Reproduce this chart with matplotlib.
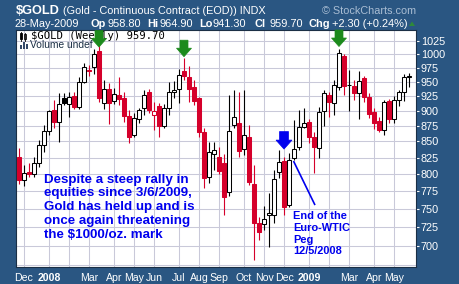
import matplotlib
matplotlib.use("Agg")
import matplotlib.pyplot as plt
import pandas as pd
from matplotlib.patches import Polygon, Rectangle
from matplotlib.ticker import FixedLocator, NullLocator, FuncFormatter
from matplotlib.transforms import IdentityTransform

plt.rcParams['font.family'] = ['Liberation Sans', 'DejaVu Sans']

# ---- weekly OHLC for $GOLD (continuous contract), weeks starting Monday ----
week_start = "2007-11-26"
opens = [826, 791, 803.5, 800, 817, 844, 867, 901, 882, 921,
         911, 925, 905.7, 950, 970.7, 975.6, 1006, 913.5, 936.5, 917,
         926, 921, 891, 860, 887, 904, 932, 893, 908, 874.9,
         904, 931, 936.5, 969.5, 959, 941, 921, 865.5, 796, 830,
         826, 817, 774, 876, 879, 838, 857, 785, 731, 728.7,
         741.5, 741.5, 803.5, 820, 755, 825, 840.8, 873.7, 882, 857,
         840, 900, 926.6, 913.5, 941, 996.3, 944, 942.8, 929.5, 955.8,
         923.7, 897.7, 883.5, 868.5, 916.8, 887, 918, 932, 958.8]
highs = [839, 814, 816, 826, 852, 876, 901, 918, 929.5, 929.5,
         932, 932, 958.7, 982.9, 979.8, 1009, 1025, 953, 948, 939,
         958.7, 932, 901, 895.8, 905, 935, 937, 915, 913, 911,
         950, 951, 971.9, 992, 978, 953, 924, 871, 849.6, 849.6,
         842, 830, 926.6, 936, 932, 936, 876, 813.5, 739, 753.5,
         772, 806, 836.5, 826, 832, 884.6, 901, 904, 886, 865.5,
         906.5, 935, 932, 952.8, 1008.8, 1000.5, 970.7, 953, 969.6, 960,
         930, 905, 889, 918, 920, 925, 935, 963.5, 964.9]
lows = [785, 782, 796, 796, 811, 834, 860, 871, 849.6, 909.6,
        889, 903, 903, 947, 960.8, 963, 915, 903.6, 878, 911,
        910, 882, 847, 857, 880, 893, 896, 868.5, 857.5, 871,
        893, 921, 913.5, 953, 915, 910, 857.5, 779, 786.5, 806,
        800, 741, 768, 871, 826, 829, 784, 682, 708, 721,
        699, 730, 794.5, 741.5, 752, 821, 836.5, 871, 847, 801,
        823.6, 874.9, 890, 893, 935.3, 926.6, 900, 918, 885.6, 915,
        888, 870, 865.5, 860, 880, 880, 908, 917, 941.3]
closes = [791, 801, 799.6, 817, 844, 867, 899.4, 882, 911, 913.5,
          923.7, 906.7, 950, 975.6, 969, 1000, 921, 936.5, 913.5, 928,
          919, 891, 857.5, 887.3, 901, 926.6, 901, 900, 874.9, 904,
          932, 935, 961.7, 960, 936.5, 917, 865.5, 793.7, 834, 836.5,
          805, 766, 867, 889, 835.5, 860, 788.7, 731, 718.7, 736,
          744.5, 792, 818.5, 753, 821, 838, 873.7, 880, 856.5, 840.8,
          897, 930.6, 915, 944, 1002.4, 942.8, 943.5, 930.6, 951.6, 923.7,
          894.5, 879, 868.5, 915, 887, 918, 932, 957.4, 959.7]

price_ticks = [700, 725, 750, 775, 800, 825, 850, 875, 900, 925, 950, 975, 1000, 1025]
grid_levels = [675] + price_ticks
month_labels = ["Dec", "2008", "", "Mar", "Apr", "May", "Jun", "Jul", "Aug",
                "Sep", "Oct", "Nov", "Dec", "2009", "", "Mar", "Apr", "May"]

# signal arrows: (week index, tip price)
green_arrows = [(16, 1013), (33, 995), (64, 1014)]
blue_arrows = [(53, 838)]
# pointer from the "End of the Euro-WTIC Peg" note
peg_line_x = [54.9, 59.2]
peg_line_y = [819.6, 755.2]

# ---- colours ----
FRAME = '#2a5682'
RED = '#d5002b'
GRID = '#c9c9d9'
GREEN = '#1c8a1c'
BLUE = '#0000ee'

W, H, DPI = 460, 284, 100
fig = plt.figure(figsize=(W / DPI, H / DPI), dpi=DPI)
fig.patch.set_facecolor(FRAME)


def fpos(x, y):
    return x / W, 1 - y / H


ax = fig.add_axes([16 / W, 1 - 267 / H, 400 / W, 237 / H])
ax.set_facecolor('white')
ax.set_yscale('log')
ax.set_ylim(673.1, 1045.6)
ax.set_xlim(-0.6, 79.4)

for s in ax.spines.values():
    s.set_color('#1b2f45')
    s.set_linewidth(0.8)

# grid
for lvl in grid_levels:
    ax.axhline(lvl, color=GRID, lw=0.75, zorder=0)

dates = pd.date_range(week_start, periods=len(closes), freq="W-MON")
month_idx = []
seen = set()
for i, d in enumerate(dates):
    key = (d.year, d.month)
    if key not in seen and d.day <= 7:
        seen.add(key)
        month_idx.append(i)
for mi in month_idx:
    ax.axvline(mi, color=GRID, lw=0.75, zorder=0)

# candles: black when the close is above the prior close, red otherwise;
# hollow when the close is above the open
for i in range(len(closes)):
    o, h, l, c = opens[i], highs[i], lows[i], closes[i]
    prev = closes[i - 1] if i > 0 else o
    col = 'black' if c >= prev else RED
    face = 'white' if c > o else col
    ax.vlines(i, l, h, colors=col, lw=0.8, zorder=2)
    bot = min(o, c)
    ht = max(abs(c - o), 0.3)
    ax.bar(i, ht, bottom=bot, width=0.8, facecolor=face, edgecolor=col,
           linewidth=0.75, zorder=3)

# axes ticks
ax.yaxis.tick_right()
ax.yaxis.set_major_locator(FixedLocator(price_ticks))
ax.yaxis.set_minor_locator(NullLocator())
ax.yaxis.set_major_formatter(FuncFormatter(lambda v, p: f"{v:.0f}"))
ax.yaxis.set_minor_formatter(FuncFormatter(lambda v, p: ""))
ax.tick_params(axis='y', colors='white', labelsize=7.8, length=2, width=0.8, pad=1.5)

ax.set_xticks(month_idx)
ax.set_xticklabels(month_labels[:len(month_idx)])
ax.tick_params(axis='x', colors='white', labelsize=7.6, length=0, pad=4)
for lbl in ax.get_xticklabels():
    if lbl.get_text().isdigit():
        lbl.set_fontweight('bold')


def down_arrow(ix, price, color, head_w=15, head_h=8.5, shaft_w=8, shaft_h=8):
    tx, ty = ax.transData.transform((ix, price))
    verts = [(tx, ty), (tx - head_w / 2, ty + head_h), (tx - shaft_w / 2, ty + head_h),
             (tx - shaft_w / 2, ty + head_h + shaft_h), (tx + shaft_w / 2, ty + head_h + shaft_h),
             (tx + shaft_w / 2, ty + head_h), (tx + head_w / 2, ty + head_h)]
    fig.add_artist(Polygon(verts, closed=True, transform=IdentityTransform(),
                           facecolor=color, edgecolor=color, lw=0.5, zorder=8))


for ix, p in green_arrows:
    down_arrow(ix, p, GREEN)
for ix, p in blue_arrows:
    down_arrow(ix, p, BLUE, head_w=16, head_h=9, shaft_w=9, shaft_h=8.5)

ax.plot(peg_line_x, peg_line_y, color=BLUE, lw=1.2, zorder=5, solid_capstyle='butt')

# notes
fig.text(*fpos(44, 173.5), "Despite a steep rally in\nequities since 3/6/2009,\n"
         "Gold has held up and is\nonce again threatening\nthe $1000/oz. mark",
         color=BLUE, fontsize=9.6, fontweight='bold', va='top', ha='left',
         linespacing=1.2, zorder=6)
fig.text(*fpos(293, 211), "End of the\nEuro-WTIC\nPeg\n12/5/2008",
         color=BLUE, fontsize=7.9, fontweight='bold', va='top', ha='left',
         linespacing=1.22, zorder=6)

# in-chart legend
fig.text(*fpos(31.5, 36), "$GOLD (Weekly) 959.70", family='DejaVu Sans Mono',
         fontsize=7.6, color='black', va='center', ha='left', zorder=7)
fig.text(*fpos(30, 45.5), "Volume undef", fontsize=7.4, color='#1b2f45',
         va='center', ha='left', zorder=7)
# small chart-type icons
for x0, y0, h0, fill in [(19.5, 33, 6, 'black'), (23.5, 34, 5, 'white')]:
    fig.add_artist(Rectangle((x0, H - y0 - h0), 2.5, h0, transform=IdentityTransform(),
                             facecolor=fill, edgecolor='black', lw=0.6, zorder=7))
    fig.add_artist(plt.Line2D([x0 + 1.25, x0 + 1.25], [H - y0 - h0 - 1.5, H - y0 + 1.5],
                              transform=IdentityTransform(), color='black', lw=0.6, zorder=7))
for k, hh in enumerate([4, 7, 5]):
    fig.add_artist(Rectangle((19.5 + k * 3, H - 49), 2, hh, transform=IdentityTransform(),
                             facecolor='#34496a', edgecolor='none', zorder=7))

# header
fig.text(*fpos(16, 11), "$GOLD", color='white', fontsize=9.2, fontweight='bold', va='center')
fig.text(*fpos(63, 11), "(Gold - Continuous Contract (EOD)) INDX", color='white',
         fontsize=7.8, va='center')
fig.text(*fpos(416, 10.5), "\u00a9 StockCharts.com", color='#a9bdd3', fontsize=7.8,
         va='center', ha='right')

fig.text(*fpos(15, 24), "28-May-2009", color='white', fontsize=7.9, va='center')
header_parts = [(90.5, "Op", True), (108, "958.80", False), (147.5, "Hi", True),
                (160, "964.90", False), (199, "Lo", True), (213, "941.30", False),
                (255, "Cl", True), (270, "959.70", False), (309, "Chg", True),
                (332, "+2.30 (+0.24%)", False)]
for x, t, b in header_parts:
    fig.text(*fpos(x, 24), t, color='white', fontsize=7.9, va='center',
             fontweight='bold' if b else 'normal')
fig.add_artist(Polygon([(409, H - 26), (415, H - 26), (412, H - 21.5)], closed=True,
                       transform=IdentityTransform(), facecolor='#2f8a3a', edgecolor='none'))

fig.savefig("out.png", dpi=DPI, facecolor=fig.get_facecolor())
